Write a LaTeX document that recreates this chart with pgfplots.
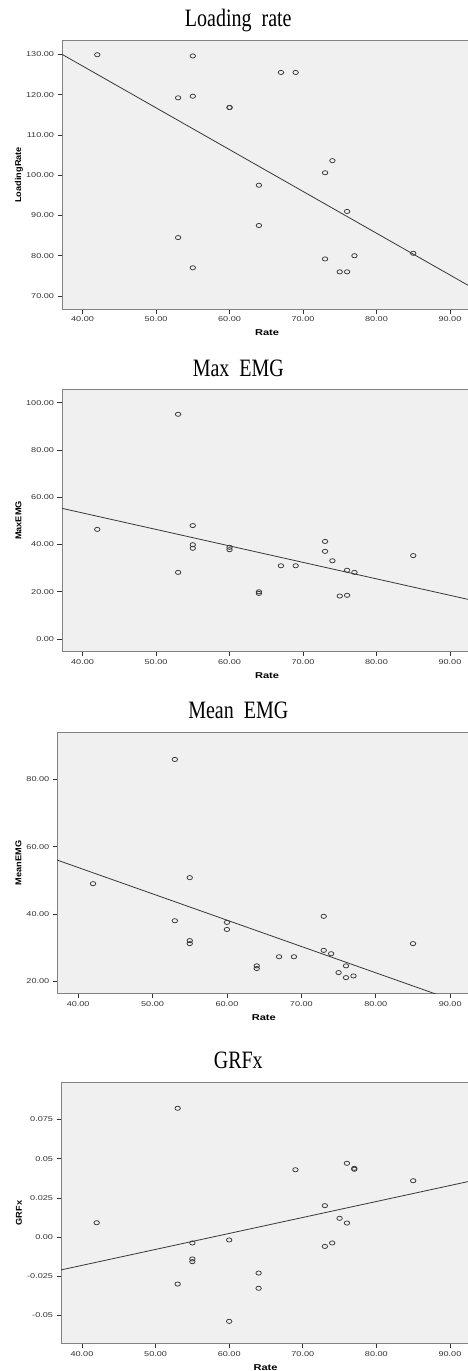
\documentclass[border=0pt]{standalone}
\usepackage{fontspec}
\setmainfont{Liberation Sans}
\newfontfamily\titlefont[FakeStretch=0.8]{Liberation Serif}
\newfontfamily\tickfont[FakeStretch=1.3]{Liberation Sans}
\newfontfamily\labfont[FakeStretch=1.3]{Liberation Sans}
\newfontfamily\ylabfont[FakeStretch=1.08]{Liberation Sans}
\usepackage{pgfplots}
\pgfplotsset{compat=1.18}
\usepackage{pgfplotstable}
\definecolor{bgc}{RGB}{240,240,240}
\definecolor{framec}{RGB}{130,130,130}
\definecolor{ink}{RGB}{55,55,55}
\definecolor{tickc}{RGB}{50,50,50}

\pgfplotstableread{
x y
42 129.9
53 119.2
53 84.5
55 129.6
55 119.6
55 77.0
60 116.8
60 116.8
64 97.5
64 87.5
67 125.5
69 125.5
73 100.6
73 79.2
74 103.6
75 76.0
76 91.0
76 76.0
77 80.0
85 80.6
}\loadingdata

\pgfplotstableread{
x y
42 46.4
53 95.1
53 28.2
55 48.0
55 39.9
55 38.4
60 38.8
60 37.8
64 20.0
64 19.3
67 31.0
69 31.0
73 41.3
73 37.1
74 33.1
75 18.2
76 29.1
76 18.5
77 28.2
85 35.3
}\maxemgdata

\pgfplotstableread{
x y
42 49.0
53 85.9
53 38.0
55 50.8
55 32.1
55 31.2
60 37.5
60 35.4
64 24.6
64 23.8
67 27.3
69 27.3
73 39.3
73 29.2
74 28.2
75 22.6
76 24.6
76 21.1
77 21.6
85 31.2
}\meanemgdata

\pgfplotstableread{
x y
42 0.0091
53 0.0821
53 -0.0300
55 -0.0038
55 -0.0140
55 -0.0157
60 -0.0019
60 -0.0538
64 -0.0230
64 -0.0327
69 0.0429
73 0.0200
73 -0.0060
74 -0.0038
75 0.0119
76 0.0470
76 0.0089
77 0.0438
77 0.0432
85 0.0359
}\grfxdata

\pgfplotsset{spss/.style={
  scale only axis, anchor=south west,
  axis background/.style={fill=bgc},
  axis line style={draw=framec, line width=0.9pt},
  tick align=outside, tick pos=left,
  major tick length=4.5pt,
  tick style={draw=tickc, line width=0.6pt},
  xtick={40,50,60,70,80,90},
  xticklabels={40.00,50.00,60.00,70.00,80.00,90.00},
  scaled ticks=false,
  ticklabel style={font=\tickfont\fontsize{7}{8}\selectfont, text=tickc},
  xlabel={Rate},
  xlabel style={font=\labfont\bfseries\fontsize{8.5}{10}\selectfont, at={(axis description cs:0.5,0)}, anchor=center, yshift=-24pt},
  ylabel style={font=\ylabfont\bfseries\fontsize{8.5}{10}\selectfont, anchor=center},
  clip=true,
},
pts/.style={only marks, mark=o, mark size=2.1pt, draw=ink, mark options={xscale=1.3, line width=0.75pt, draw=ink}},
fit/.style={draw=ink, line width=0.8pt, no marks}
}

\begin{document}
\begin{tikzpicture}[x=1pt,y=1pt]
\path[use as bounding box] (0,0) rectangle (468,-1371);

% Panel 1
\node[anchor=base, font=\titlefont\fontsize{25}{25}\selectfont] at (238.3,-26.7) {Loading~~rate};
\begin{axis}[spss, at={(62pt,-309pt)}, width=410pt, height=268.3pt,
  xmin=37.2, xmax=93.0, ymin=66.77, ymax=133.38,
  ytick={70,80,90,100,110,120,130},
  yticklabels={70.00,80.00,90.00,100.00,110.00,120.00,130.00},
  ylabel={LoadingRate}, ylabel style={at={(axis description cs:-0.105,0.5)}}]
  \addplot[pts] table {\loadingdata};
  \addplot[fit] coordinates {(37.2,130.0) (93.0,72.1)};
\end{axis}

% Panel 2
\node[anchor=base, font=\titlefont\fontsize{25}{25}\selectfont] at (238.3,-376) {Max~~EMG};
\begin{axis}[spss, at={(62pt,-651.7pt)}, width=410pt, height=262.4pt,
  xmin=37.2, xmax=93.0, ymin=-5.37, ymax=105.67,
  ytick={0,20,40,60,80,100},
  yticklabels={0.00,20.00,40.00,60.00,80.00,100.00},
  ylabel={MaxEMG}, ylabel style={at={(axis description cs:-0.106,0.5)}}]
  \addplot[pts] table {\maxemgdata};
  \addplot[fit] coordinates {(37.2,55.3) (93.0,16.4)};
\end{axis}

% Panel 3
\node[anchor=base, font=\titlefont\fontsize{25}{25}\selectfont] at (238.3,-718.3) {Mean~~EMG};
\begin{axis}[spss, at={(57.3pt,-993.3pt)}, width=413pt, height=261pt,
  xmin=37.2, xmax=92.7, ymin=16.44, ymax=93.96,
  ytick={20,40,60,80},
  yticklabels={20.00,40.00,60.00,80.00},
  ylabel={MeanEMG}, ylabel style={at={(axis description cs:-0.094,0.5)}}]
  \addplot[pts] table {\meanemgdata};
  \addplot[fit] coordinates {(37.2,56.0) (92.7,12.6)};
\end{axis}

% Panel 4
\node[anchor=base, font=\titlefont\fontsize{25}{25}\selectfont] at (238.3,-1068.3) {GRFx};
\begin{axis}[spss, at={(61pt,-1343.3pt)}, width=409pt, height=260.6pt,
  xmin=37.15, xmax=92.72, ymin=-0.0678, ymax=0.0984,
  ytick={-0.05,-0.025,0,0.025,0.05,0.075},
  yticklabels={-0.05,-0.025,0.00,0.025,0.05,0.075},
  ylabel={GRFx}, ylabel style={at={(axis description cs:-0.103,0.5)}}]
  \addplot[pts] table {\grfxdata};
  \addplot[fit] coordinates {(37.15,-0.0210) (92.72,0.0356)};
\end{axis}
\end{tikzpicture}
\end{document}
